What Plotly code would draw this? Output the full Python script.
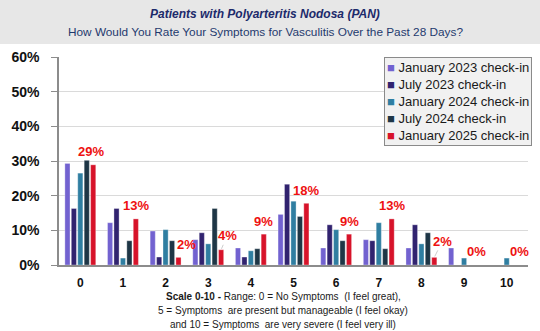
import plotly.graph_objects as go

categories = ["0", "1", "2", "3", "4", "5", "6", "7", "8", "9", "10"]
series_names = ["January 2023 check-in", "July 2023 check-in", "January 2024 check-in",
                "July 2024 check-in", "January 2025 check-in"]
jan2023 = [29.3, 12.2, 9.8, 7.3, 4.9, 14.6, 4.9, 7.3, 4.9, 4.9, 0.0]
jul2023 = [16.3, 16.3, 2.3, 9.3, 2.3, 23.3, 11.6, 7.0, 11.6, 0.0, 0.0]
jan2024 = [26.5, 2.0, 10.2, 6.1, 4.1, 18.4, 10.2, 12.2, 6.1, 2.0, 2.0]
jul2024 = [30.2, 7.0, 7.0, 16.3, 4.7, 14.0, 7.0, 4.7, 9.3, 0.0, 0.0]
jan2025 = [28.9, 13.3, 2.2, 4.4, 8.9, 17.8, 8.9, 13.3, 2.2, 0.0, 0.0]
y_ticks = [0, 10, 20, 30, 40, 50, 60]
y_ticktext = ["0%", "10%", "20%", "30%", "40%", "50%", "60%"]

colors = ["#7262D0", "#31236F", "#2F7EA1", "#1E3646", "#D7132A"]
all_series = [jan2023, jul2023, jan2024, jul2024, jan2025]

FONT = "Liberation Sans"
BARGAP = 0.245
x_idx = list(range(len(categories)))

# pixel geometry of plot area (for placing titles / notes in paper coords)
plot_top, plot_bottom = 57, 264.7
plot_left, plot_w = 56, 472.5
ph = plot_bottom - plot_top
def py(px):
    return (plot_bottom - px) / ph
def pxp(px):
    return (px - plot_left) / plot_w

fig = go.Figure()
for name, vals, col in zip(series_names, all_series, colors):
    fig.add_trace(go.Bar(
        x=x_idx, y=vals, name=name, showlegend=False,
        marker=dict(color=col, line=dict(color="rgba(255,255,255,0.55)", width=0.6)),
    ))

# data labels for January 2025 series
n = len(all_series)
slot = (1 - BARGAP) / n
last_off = -(1 - BARGAP) / 2 + slot * (n - 0.5)
label_dx = [-2, 0, 8, 6, 0, 0, 0, 0, 8, 0, 0]
label_dy = [13, 13, 13, 14, 13, 13, 13, 13, 16, 14, 14]
leader = [False, False, False, True, False, False, False, False, True, False, False]
for i, v in enumerate(jan2025):
    fig.add_annotation(
        x=i + last_off, y=v, xref="x", yref="y",
        text=f"{round(v):.0f}%", showarrow=True,
        ax=label_dx[i], ay=-label_dy[i], axref="pixel", ayref="pixel",
        arrowhead=0, arrowwidth=0.8,
        arrowcolor="#c0c0c0" if leader[i] else "rgba(0,0,0,0)",
        standoff=1,
        font=dict(family=FONT, size=13, color="#EE1111", weight="bold"),
    )

# custom legend
legend_lines = [f"<span style='color:{c}'>■</span> {nm}" for nm, c in zip(series_names, colors)]
fig.add_annotation(
    x=pxp(383), y=1.0, xref="paper", yref="paper", xanchor="left", yanchor="top",
    text="<br>".join(legend_lines), align="left", showarrow=False,
    bordercolor="#8a8a8a", borderwidth=1, borderpad=2, bgcolor="#F1F1F1",
    font=dict(family=FONT, size=13, color="#1a1a1a"),
)

# title band and titles
fig.add_shape(type="rect", xref="paper", yref="paper", x0=pxp(-5), x1=pxp(545),
              y0=py(44), y1=py(-2),
              fillcolor="#E7E7E7", line=dict(width=0), layer="below")
fig.add_annotation(
    x=pxp(264), xref="paper", y=py(14), yref="paper", showarrow=False,
    xanchor="center", yanchor="middle",
    text="<b><i>Patients with Polyarteritis Nodosa (PAN)</i></b>",
    font=dict(family=FONT, size=12, color="#1C2A6B"),
)
fig.add_annotation(
    x=pxp(264), xref="paper", y=py(32.5), yref="paper", showarrow=False,
    xanchor="center", yanchor="middle",
    text="How Would You Rate Your Symptoms for Vasculitis Over the Past 28 Days?",
    font=dict(family=FONT, size=11.8, color="#1F3A6E"),
)

# bottom note
note_lines = [
    "<b>Scale 0-10 -</b> Range: 0 = No Symptoms  (I feel great),",
    "5 = Symptoms  are present but manageable (I feel okay)",
    "and 10 = Symptoms  are very severe (I feel very ill)",
]
note_y = [295.7, 310.2, 324.3]
for txt, y in zip(note_lines, note_y):
    fig.add_annotation(
        x=pxp(282), xref="paper", y=py(y), yref="paper", showarrow=False,
        xanchor="center", yanchor="middle",
        text=txt, font=dict(family=FONT, size=10, color="#1a1a1a"),
    )

fig.update_layout(
    width=540, height=331,
    margin=dict(l=56, r=11.5, t=57, b=66.3, pad=0),
    paper_bgcolor="white", plot_bgcolor="white",
    barmode="group", bargap=BARGAP, bargroupgap=0.2,
    xaxis=dict(
        range=[-0.5, 10.5], tickvals=x_idx, ticktext=categories,
        showline=True, linecolor="#8c8c8c", linewidth=2, ticks="",
        showgrid=False, zeroline=False, ticklabelstandoff=6,
        tickfont=dict(family=FONT, size=12, color="#111111", weight="bold"),
    ),
    yaxis=dict(
        range=[0, 60], tickvals=y_ticks, ticktext=y_ticktext,
        showline=True, linecolor="#8c8c8c", linewidth=1.5,
        ticks="outside", ticklen=6, tickcolor="#8c8c8c", tickwidth=1.2,
        showgrid=True, gridcolor="#DADADA", gridwidth=1, zeroline=False,
        ticklabelstandoff=9,
        tickfont=dict(family=FONT, size=14, color="#111111", weight="bold"),
    ),
)

fig.write_html("out.html")
